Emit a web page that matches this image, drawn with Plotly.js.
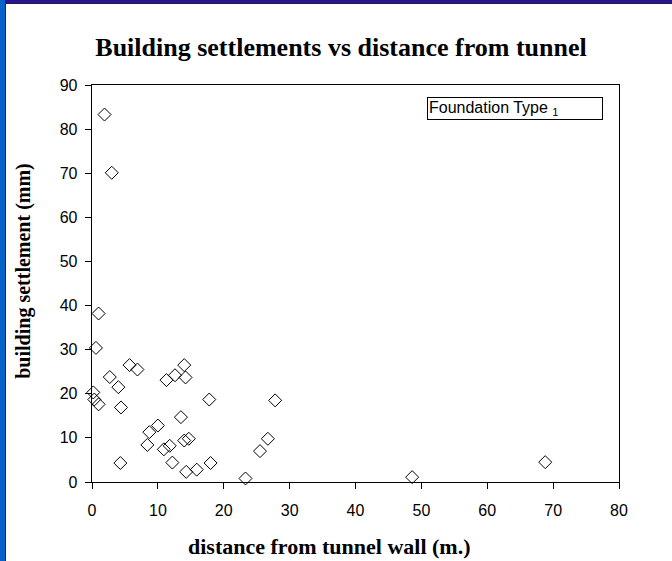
<!DOCTYPE html>
<html>
<head>
<meta charset="utf-8">
<script src="https://cdn.plot.ly/plotly-3.0.1.min.js"></script>
<style>
  html, body { margin: 0; padding: 0; background: #ffffff; }
  #wrap { position: relative; width: 672px; height: 561px; overflow: hidden; }
  #chart { position: absolute; left: 0; top: 0; width: 672px; height: 561px; }
  #frameLeft { position: absolute; left: 0; top: 0; width: 5px; height: 561px; background: #0763c9; }
  #frameTop { position: absolute; left: 0; top: 0; width: 672px; height: 3px; background: #2d1393; }
  #frameTopLeft { position: absolute; left: 0; top: 0; width: 5px; height: 3px; background: #0763c9; }
  #innerLeft { position: absolute; left: 5px; top: 3px; width: 1px; height: 558px; background: #1a2440; }
  #innerTop { position: absolute; left: 5px; top: 3px; width: 667px; height: 1px; background: #1a2440; }
</style>
</head>
<body>
<div id="wrap">
  <div id="chart"></div>
  <div id="frameLeft"></div>
  <div id="frameTop"></div>
  <div id="frameTopLeft"></div>
  <div id="innerLeft"></div>
  <div id="innerTop"></div>
</div>
<script>
// Distance from tunnel wall (m.)
const distance = [
  1.9, 3.0, 1.0, 0.6, 0.2, 0.35, 1.0, 2.7, 4.0, 4.4, 4.3, 5.7, 6.9,
  8.7, 8.4, 10.0, 10.9, 11.8, 11.3, 12.6, 12.2, 13.5, 14.0, 14.2, 14.0,
  14.7, 14.3, 15.9, 17.8, 18.0, 23.3, 25.5, 26.7, 27.8, 48.6, 68.8
];
// Building settlement (mm)
const settlement = [
  83.3, 70.1, 38.2, 30.4, 20.3, 18.7, 17.6, 23.8, 21.5, 16.9, 4.3, 26.5, 25.5,
  11.3, 8.4, 12.8, 7.4, 8.2, 23.1, 24.2, 4.4, 14.7, 26.5, 23.7, 9.4,
  9.8, 2.3, 2.8, 18.7, 4.3, 0.8, 7.0, 9.8, 18.5, 1.1, 4.5
];
const seriesName = 'Foundation Type <sub>1</sub>';
const xTicks = [0, 10, 20, 30, 40, 50, 60, 70, 80];
const yTicks = [0, 10, 20, 30, 40, 50, 60, 70, 80, 90];
const chartTitle = 'Building settlements vs distance from tunnel';
const xTitle = 'distance from tunnel wall (m.)';
const yTitle = 'building settlement (mm)';

const L = 92.3, R = 53.3, T = 85, B = 79.3;
const W = 672, H = 561;
const pw = W - L - R, ph = H - T - B;
const px = (p) => (p - L) / pw;      // pixel -> paper x
const py = (p) => (H - B - p) / ph;  // pixel -> paper y

const trace = {
  type: 'scatter',
  mode: 'markers',
  x: distance,
  y: settlement,
  name: seriesName,
  cliponaxis: false,
  marker: {
    symbol: 'diamond-open',
    size: 10,
    color: '#000000',
    line: { color: '#000000', width: 1 }
  },
  showlegend: false
};

const tickFont = { family: 'Liberation Sans, Arial, sans-serif', size: 16, color: '#000000' };

const layout = {
  width: W,
  height: H,
  paper_bgcolor: '#ffffff',
  plot_bgcolor: '#ffffff',
  margin: { l: L, r: R, t: T, b: B, pad: 0 },
  title: {
    text: '<b>' + chartTitle + '</b>',
    font: { family: 'Liberation Serif, Times New Roman, serif', size: 26, color: '#000000' },
    xref: 'container', yref: 'container',
    x: 341 / W, xanchor: 'center',
    y: 1 - 47 / H, yanchor: 'middle'
  },
  xaxis: {
    range: [0, 80],
    tickvals: xTicks,
    ticktext: xTicks.map(String),
    showgrid: false,
    zeroline: false,
    showline: true,
    linecolor: '#000000',
    linewidth: 1.3,
    mirror: true,
    ticks: 'outside',
    ticklen: 6,
    tickwidth: 1,
    tickcolor: '#000000',
    tickfont: tickFont,
    ticklabelstandoff: 7,
    fixedrange: true
  },
  yaxis: {
    range: [0, 90],
    tickvals: yTicks,
    ticktext: yTicks.map(String),
    showgrid: false,
    zeroline: false,
    showline: true,
    linecolor: '#000000',
    linewidth: 1.3,
    mirror: true,
    ticks: 'outside',
    ticklen: 6,
    tickwidth: 1,
    tickcolor: '#000000',
    tickfont: tickFont,
    ticklabelstandoff: 4,
    fixedrange: true
  },
  annotations: [
    {
      text: '<b>' + xTitle + '</b>',
      xref: 'paper', yref: 'paper',
      x: px(330), y: py(546),
      xanchor: 'center', yanchor: 'middle',
      showarrow: false,
      font: { family: 'Liberation Serif, Times New Roman, serif', size: 22, color: '#000000' }
    },
    {
      text: '<b>' + yTitle + '</b>',
      xref: 'paper', yref: 'paper',
      x: px(24), y: py(271),
      xanchor: 'center', yanchor: 'middle',
      textangle: -90,
      showarrow: false,
      font: { family: 'Liberation Serif, Times New Roman, serif', size: 20, color: '#000000' }
    },
    {
      text: seriesName,
      xref: 'paper', yref: 'paper',
      x: px(427), y: py(97),
      xanchor: 'left', yanchor: 'top',
      align: 'left',
      width: 172,
      height: 19,
      showarrow: false,
      bgcolor: '#ffffff',
      bordercolor: '#000000',
      borderwidth: 1,
      borderpad: 1,
      font: { family: 'Liberation Sans, Arial, sans-serif', size: 16, color: '#000000' }
    }
  ]
};

Plotly.newPlot('chart', [trace], layout, { staticPlot: true, displayModeBar: false });
</script>
</body>
</html>
